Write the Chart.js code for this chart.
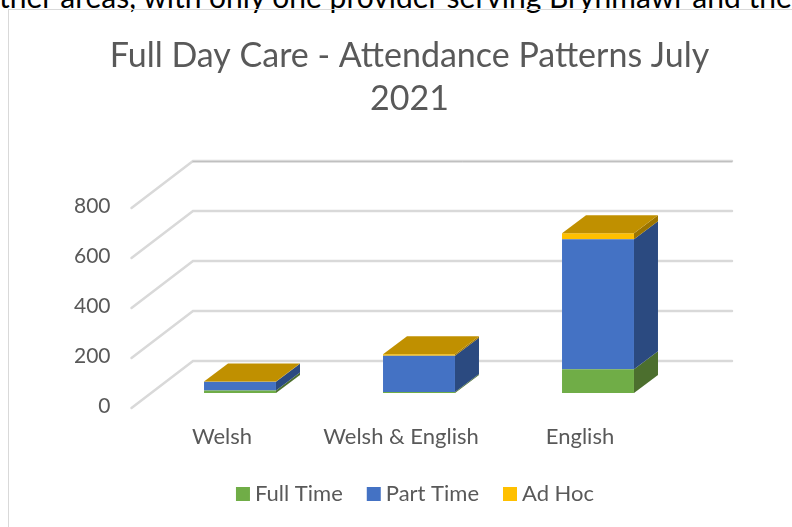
<!DOCTYPE html>
<html><head><meta charset="utf-8">
<script src="https://cdn.jsdelivr.net/npm/chart.js@4/dist/chart.umd.min.js"></script>
<style>
html,body{margin:0;padding:0;background:#fff;overflow:hidden;width:792px;height:527px}
#para{position:absolute;left:-1px;top:-22px;white-space:nowrap;font:30px Lato,sans-serif;color:#000}
#frame{position:absolute;left:8px;top:9px;width:800px;height:540px;border:1px solid #d9d9d9;box-sizing:border-box}
#wrap{position:absolute;left:0;top:0;width:792px;height:527px}
</style></head><body>
<div id="para">ther areas, with only one provider serving Brynmawr and the</div>
<div id="frame"></div>
<div id="wrap"><canvas id="c" width="792" height="527"></canvas></div>
<script>
const categories = ['Welsh', 'Welsh & English', 'English'];
const fullTime = [10, 4, 95];
const partTime = [35, 145, 520];
const adHoc = [1, 6, 24];
const yTicks = [0, 200, 400, 600, 800];

const depthX = 24, depthY = -18;
const sideColors = ['#4c6f2e', '#2b4a80', '#9c7500'];
const topColor = '#c09000';

const pseudo3d = {
  id: 'pseudo3d',
  afterLayout(chart) {
    const t = chart.titleBlock, l = chart.legend;
    t.left = 27; t.right = 792;
    l.left = 44; l.right = 792;
    l.top -= 12; l.bottom -= 12;
  },
  beforeDatasetsDraw(chart) {
    const {ctx, chartArea: a, scales: {y}} = chart;
    ctx.save();
    ctx.lineCap = 'round';
    yTicks.forEach((v, i) => {
      const p = y.getPixelForValue(v);
      ctx.strokeStyle = '#d9d9d9';
      ctx.lineWidth = 2.5;
      ctx.beginPath();
      ctx.moveTo(a.left - 19, p + 15);
      ctx.lineTo(a.left + 42.5, p - 32);
      ctx.lineTo(a.right + 44.5, p - 32);
      ctx.stroke();
      if (i === yTicks.length - 1) {
        ctx.strokeStyle = '#b5b5b5';
        ctx.lineWidth = 1;
        ctx.beginPath();
        ctx.moveTo(a.left + 42.5, p - 31.2);
        ctx.lineTo(a.right + 44.5, p - 31.2);
        ctx.stroke();
      }
    });
    ctx.restore();
  },
  afterDatasetsDraw(chart) {
    const {ctx} = chart;
    ctx.save();
    const n = chart.data.datasets.length;
    for (let d = 0; d < n; d++) {
      chart.getDatasetMeta(d).data.forEach(el => {
        const r = el.x + el.width / 2, top = el.y, bot = el.base;
        ctx.fillStyle = sideColors[d];
        ctx.beginPath();
        ctx.moveTo(r, bot);
        ctx.lineTo(r + depthX, bot + depthY);
        ctx.lineTo(r + depthX, top + depthY);
        ctx.lineTo(r, top);
        ctx.closePath();
        ctx.fill();
        if (d === n - 1) {
          const l = el.x - el.width / 2;
          ctx.fillStyle = topColor;
          ctx.beginPath();
          ctx.moveTo(l, top);
          ctx.lineTo(l + depthX, top + depthY);
          ctx.lineTo(r + depthX, top + depthY);
          ctx.lineTo(r, top);
          ctx.closePath();
          ctx.fill();
        }
      });
    }
    ctx.restore();
  }
};

const textColor = '#595959';
const font = {family: 'Lato', size: 22};

new Chart(document.getElementById('c'), {
  type: 'bar',
  plugins: [pseudo3d],
  data: {
    labels: categories,
    datasets: [
      {label: 'Full Time', data: fullTime, backgroundColor: '#70ad47'},
      {label: 'Part Time', data: partTime, backgroundColor: '#4472c4'},
      {label: 'Ad Hoc', data: adHoc, backgroundColor: '#ffc000'}
    ]
  },
  options: {
    responsive: false,
    animation: false,
    layout: {padding: {right: 104.5}},
    datasets: {bar: {barPercentage: 0.402, categoryPercentage: 1}},
    scales: {
      x: {
        stacked: true,
        grid: {display: false},
        border: {display: false},
        ticks: {color: textColor, font, padding: 23, labelOffset: -18, maxRotation: 0, autoSkip: false},
        afterFit(s) { s.height = 72; }
      },
      y: {
        stacked: true,
        min: 0, max: 800,
        grid: {display: false},
        border: {display: false},
        afterBuildTicks(s) { s.ticks = yTicks.map(value => ({value})); },
        ticks: {color: textColor, font: {family: 'Lato', size: 21}, padding: 32, labelOffset: 13},
        afterFit(s) { s.width = 150.5; }
      }
    },
    plugins: {
      tooltip: {enabled: false},
      title: {
        display: true,
        text: ['Full Day Care - Attendance Patterns July', '2021'],
        color: textColor,
        font: {family: 'Lato', size: 34, weight: 'normal', lineHeight: 1.265},
        padding: {top: 35, bottom: 72}
      },
      legend: {
        position: 'bottom',
        labels: {
          color: textColor, font, boxWidth: 2, boxHeight: 2, padding: 30,
          generateLabels(chart) {
            return chart.data.datasets.map((ds, i) => ({
              text: ds.label, fillStyle: ds.backgroundColor, strokeStyle: ds.backgroundColor,
              lineWidth: 12, fontColor: textColor, datasetIndex: i
            }));
          }
        }
      }
    }
  }
});
</script>
</body></html>
